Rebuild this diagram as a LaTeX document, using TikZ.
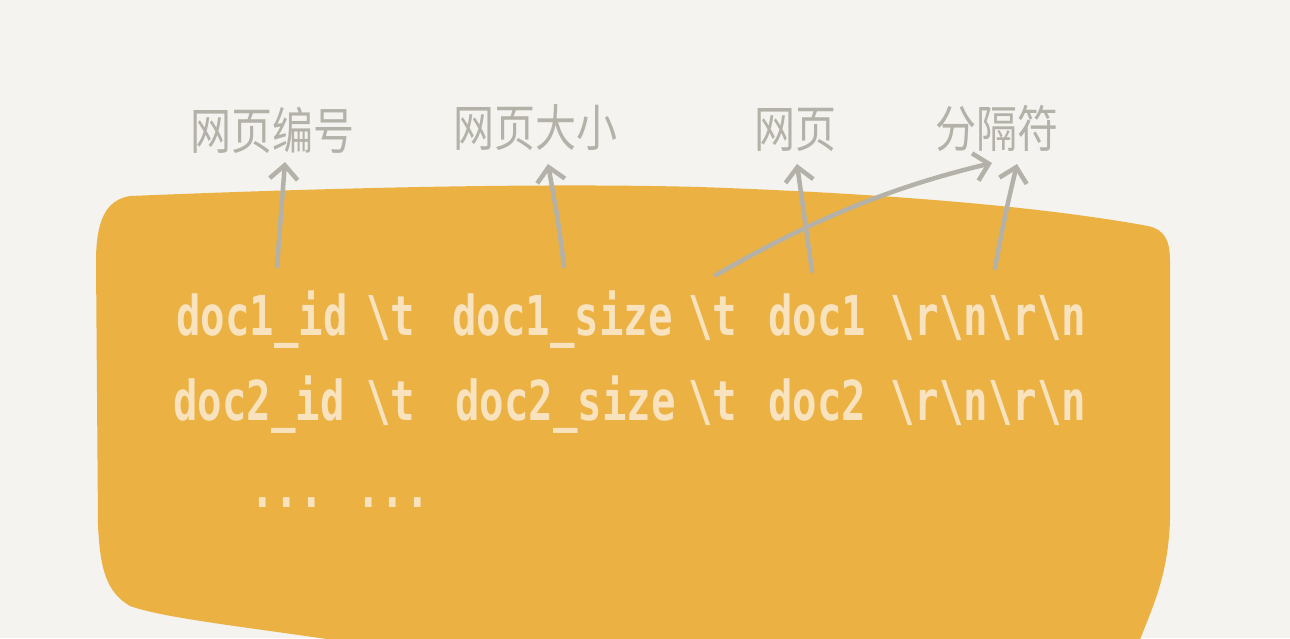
\documentclass[tikz,border=0pt]{standalone}
\usepackage{fontspec}
\usetikzlibrary{arrows.meta}
\newfontfamily\handmono[FakeStretch=0.74]{DejaVu Sans Mono}
\newfontfamily\cjk[FakeStretch=0.82]{Noto Sans CJK SC}
\definecolor{bgc}{HTML}{F4F3EF}
\definecolor{blobc}{HTML}{EBB143}
\definecolor{txtc}{HTML}{F8E3BE}
\definecolor{grayc}{HTML}{B3B1A8}
\newcommand\mybs{\char92\relax}
\tikzset{
  code/.style={anchor=base west, inner sep=0pt, text=txtc, font=\handmono\bfseries\fontsize{55}{60}\selectfont},
  lab/.style={inner sep=0pt, text=grayc, font=\cjk\fontsize{50}{56}\selectfont},
  ptr/.style={draw=grayc, line width=4.5pt, line cap=round, line join=round,
    -{Straight Barb[length=14pt,width=28pt,line width=4.5pt]}}
}
\begin{document}
\begin{tikzpicture}[x=1pt,y=-1pt]
\fill[bgc] (0,0) rectangle (1290,638);
\useasboundingbox (0,0) rectangle (1290,638);
% blob
\fill[blobc] (130,196) .. controls (350,187) and (550,183) .. (700,187)
  .. controls (900,194) and (1050,208) .. (1148,226)
  .. controls (1166,230) and (1170,242) .. (1170,262)
  -- (1170,520) .. controls (1168,580) and (1150,612) .. (1136,650)
  -- (400,650) .. controls (260,628) and (170,620) .. (130,606)
  .. controls (106,592) and (100,568) .. (98,525)
  -- (96,262) .. controls (96,220) and (106,200) .. (130,196) -- cycle;
% code lines
\node[code] (a1) at (176,335) {doc1\_id};
\node[code] (b1) at (366,335) {\mybs t};
\node[code] (c1) at (452,335) {doc1\_size};
\node[code] (d1) at (688,335) {\mybs t};
\node[code] (e1) at (768,335) {doc1};
\node[code] (f1) at (890,335) {\mybs r\mybs n\mybs r\mybs n};
\node[code] (a2) at (173,420) {doc2\_id};
\node[code] (b2) at (366,420) {\mybs t};
\node[code] (c2) at (455,420) {doc2\_size};
\node[code] (d2) at (688,420) {\mybs t};
\node[code] (e2) at (768,420) {doc2};
\node[code] (f2) at (890,420) {\mybs r\mybs n\mybs r\mybs n};
\node[code] (dots) at (250,507) {... ...};
% labels
\node[lab] (l1) at (272,130) {网页编号};
\node[lab] (l2) at (535,128) {网页大小};
\node[lab] (l3) at (795,130) {网页};
\node[lab] (l4) at (997,128) {分隔符};
% arrow ends
\coordinate (s1) at (277,266);
\coordinate (s2) at (564,266);
\coordinate (s3) at (812,271);
\coordinate (s4) at (716,275);
\coordinate (s5) at (995,268);
\coordinate (t1) at (285,162);
\coordinate (t2) at (548,164);
\coordinate (t3) at (797,164);
\coordinate (t4) at (992,163);
\coordinate (t5) at (1017,164);
\draw[ptr] (s1) -- (t1);
\draw[ptr] (s2) .. controls (558,220) .. (t2);
\draw[ptr] (s3) -- (t3);
\draw[ptr] (s4) .. controls (820,215) and (900,185) .. (t4);
\draw[ptr] (s5) .. controls (1005,215) .. (t5);
\end{tikzpicture}
\end{document}
